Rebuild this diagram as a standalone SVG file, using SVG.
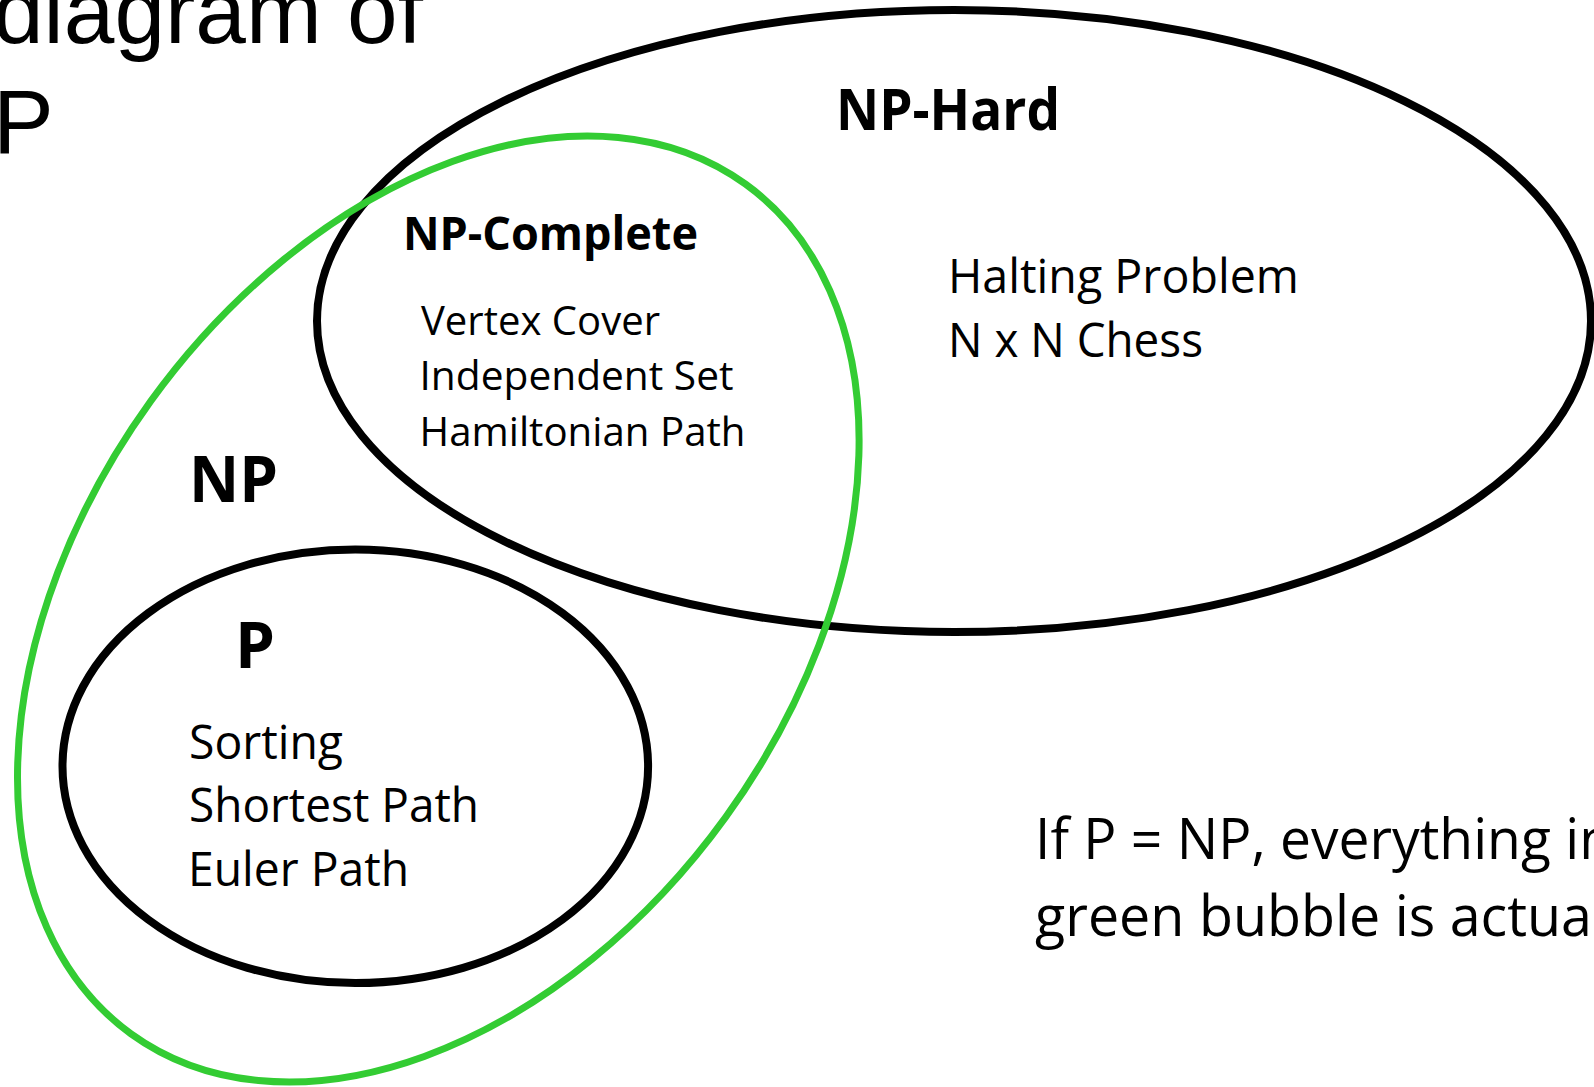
<svg xmlns="http://www.w3.org/2000/svg" width="1594" height="1087" viewBox="0 0 1594 1087">
  <style>
    .set { fill: none; stroke: #000; stroke-width: 8; }
    .np { fill: none; stroke: #33cc33; stroke-width: 7; }
    .title { font-family: "Liberation Sans", Arial, sans-serif; font-size: 91px; fill: #000; }
    .head { font-family: "Open Sans", "Noto Sans", sans-serif; font-weight: 700; fill: #000; }
    .item { font-family: "Open Sans", "Noto Sans", sans-serif; font-weight: 400; fill: #000; }
  </style>
  <rect width="1594" height="1087" fill="#fff"/>

  <!-- slide title, partly off the left/top edge -->
  <g id="title">
    <text class="title" x="-7" y="43">diagram of</text>
    <text class="title" x="-7" y="153">P</text>
  </g>

  <!-- NP-Hard set -->
  <g id="np-hard">
    <ellipse class="set" cx="954" cy="321" rx="637" ry="311"/>
    <text class="head" x="836" y="130" font-size="56.6" textLength="224" lengthAdjust="spacingAndGlyphs">NP-Hard</text>
    <text class="item" x="948" y="293" font-size="46.9" textLength="351" lengthAdjust="spacingAndGlyphs">Halting Problem</text>
    <text class="item" x="948" y="357" font-size="46.9" textLength="255" lengthAdjust="spacingAndGlyphs">N x N Chess</text>
  </g>

  <!-- P set -->
  <g id="p">
    <ellipse class="set" cx="355.3" cy="766.3" rx="292.8" ry="216.8"/>
    <text class="head" x="235" y="667.6" font-size="63.7">P</text>
    <text class="item" x="189" y="758.7" font-size="46.9" textLength="154" lengthAdjust="spacingAndGlyphs">Sorting</text>
    <text class="item" x="189" y="822" font-size="46.9" textLength="290" lengthAdjust="spacingAndGlyphs">Shortest Path</text>
    <text class="item" x="188" y="886.4" font-size="46.9" textLength="221" lengthAdjust="spacingAndGlyphs">Euler Path</text>
  </g>

  <!-- NP set (green), drawn over the black outlines -->
  <g id="np">
    <ellipse class="np" cx="438.3" cy="609" rx="524.3" ry="354.8" transform="rotate(-54.12 438.3 609)"/>
    <text class="head" x="189" y="501.7" font-size="63.7" textLength="89" lengthAdjust="spacingAndGlyphs">NP</text>
  </g>

  <!-- NP-Complete: the overlap of NP and NP-Hard -->
  <g id="np-complete">
    <text class="head" x="403" y="250" font-size="47.2" textLength="295" lengthAdjust="spacingAndGlyphs">NP-Complete</text>
    <text class="item" x="421" y="335" font-size="40.3" textLength="239" lengthAdjust="spacingAndGlyphs">Vertex Cover</text>
    <text class="item" x="419.5" y="390" font-size="40.3" textLength="314" lengthAdjust="spacingAndGlyphs">Independent Set</text>
    <text class="item" x="419.5" y="446" font-size="40.3" textLength="326" lengthAdjust="spacingAndGlyphs">Hamiltonian Path</text>
  </g>

  <!-- note, running off the right edge -->
  <g id="note">
    <text class="item" x="1035" y="859" font-size="56.6" textLength="578" lengthAdjust="spacingAndGlyphs">If P = NP, everything in</text>
    <text class="item" x="1035" y="936" font-size="56.6" textLength="557" lengthAdjust="spacingAndGlyphs">green bubble is actua</text>
  </g>
</svg>
